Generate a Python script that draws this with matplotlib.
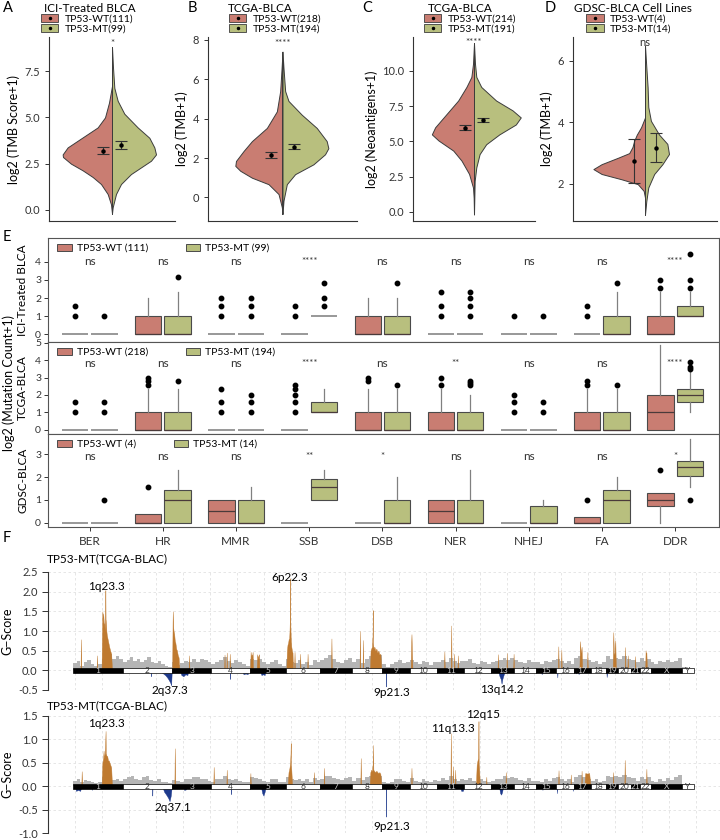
import matplotlib
matplotlib.use('Agg')
import matplotlib.pyplot as plt
from matplotlib.patches import Patch, Rectangle
from matplotlib.lines import Line2D
import numpy as np

plt.rcParams['font.family'] = ['Lato', 'DejaVu Sans']

WT_COL = '#c97d72'
MT_COL = '#b8bf7e'
EDGE = '#3c3c3c'

# ---------------- A-D : split violins ----------------
violin_titles = ['ICI-Treated BLCA', 'TCGA-BLCA', 'TCGA-BLCA', 'GDSC-BLCA Cell Lines']
violin_ylabels = ['log2 (TMB Score+1)', 'log2 (TMB+1)', 'log2 (Neoantigens+1)', 'log2 (TMB+1)']
violin_n_wt = [111, 218, 214, 4]
violin_n_mt = [99, 194, 191, 14]
violin_sig = ['*', '****', '****', 'ns']
violin_sig_y = [9.0, 7.8, 12.0, 6.6]
violin_ylim = [(-0.6, 9.35), (-1.2, 8.15), (-0.64, 12.4), (0.79, 6.78)]
violin_ticks = [[0, 2.5, 5, 7.5], [0, 2, 4, 6, 8], [0, 2.5, 5, 7.5, 10], [2, 4, 6]]

# density outlines (relative half widths)
a_wt_y = [-0.2, 0.3, 0.86, 1.4, 1.78, 2.14, 2.5, 2.86, 3.0, 3.38, 3.74, 4.1, 4.46, 5.0, 5.8, 6.7]
a_wt_w = [0, 3, 13, 33, 58, 88, 123, 147, 148, 133, 103, 73, 43, 21, 9, 0]
a_mt_y = [-0.2, 0.14, 0.86, 1.4, 1.94, 2.3, 2.66, 3.0, 3.38, 3.9, 4.46, 5.2, 5.9, 6.6, 7.7, 8.8]
a_mt_w = [0, 2, 12, 27, 57, 87, 117, 132, 127, 112, 77, 37, 17, 7, 3, 0]
b_wt_y = [-0.84, -0.5, 0.17, 0.67, 1.0, 1.35, 1.6, 1.85, 2.36, 2.86, 3.53, 4.37, 5.4, 6.5, 7.4]
b_wt_w = [0, 2, 12, 42, 92, 127, 142, 140, 117, 92, 47, 17, 7, 3, 0]
b_mt_y = [-0.84, -0.17, 0.67, 1.18, 1.68, 2.19, 2.5, 2.86, 3.53, 4.2, 4.9, 5.4, 6.57, 7.4]
b_mt_w = [0, 3, 13, 38, 93, 128, 138, 133, 103, 58, 18, 8, 3, 0]
c_wt_y = [-0.17, 1.0, 1.73, 2.7, 3.64, 4.35, 5.07, 5.5, 6.0, 6.95, 7.9, 8.86, 9.57, 10.5, 11.95]
c_wt_w = [0, 1, 3, 15, 38, 63, 108, 128, 118, 83, 48, 23, 8, 3, 0]
c_mt_y = [-0.17, 1.0, 2.2, 3.16, 4.1, 4.8, 5.5, 6.2, 6.7, 7.2, 7.9, 8.86, 9.57, 10.5, 11.95]
c_mt_w = [0, 1, 2, 7, 17, 37, 77, 127, 142, 117, 67, 22, 7, 3, 0]
d_wt_y = [1.55, 1.77, 1.99, 2.15, 2.32, 2.48, 2.64, 2.85, 3.0, 3.2, 3.4, 3.6, 3.84, 4.16]
d_wt_w = [0, 4, 22, 72, 132, 157, 132, 82, 48, 38, 33, 25, 12, 0]
d_mt_y = [1.0, 1.44, 1.88, 2.32, 2.64, 2.97, 3.3, 3.6, 4.05, 4.5, 5.14, 5.8, 6.5]
d_mt_w = [0, 4, 10, 28, 53, 73, 68, 43, 18, 10, 8, 4, 0]
violin_maxw = [0.47, 0.38, 0.46, 0.43]

wt_mean = [3.2, 2.15, 5.98, 2.73]
wt_lo = [3.0, 2.0, 5.8, 2.02]
wt_hi = [3.4, 2.3, 6.18, 3.45]
mt_mean = [3.53, 2.58, 6.53, 3.18]
mt_lo = [3.3, 2.45, 6.4, 2.72]
mt_hi = [3.75, 2.7, 6.66, 3.65]

# ---------------- E : boxplots ----------------
pathways = ['BER', 'HR', 'MMR', 'SSB', 'DSB', 'NER', 'NHEJ', 'FA', 'DDR']
e_rows = ['ICI-Treated BLCA', 'TCGA-BLCA', 'GDSC-BLCA']
e_n_wt = [111, 218, 4]
e_n_mt = [99, 194, 14]
# (q1, median, q3, whisker low, whisker high)
ici_wt_box = [(0, 0, 0, 0, 0), (0, 0, 1, 0, 2), (0, 0, 0, 0, 0), (0, 0, 0, 0, 0), (0, 0, 1, 0, 2),
              (0, 0, 0, 0, 0), (0, 0, 0, 0, 0), (0, 0, 0, 0, 0), (0, 0, 1, 0, 2.32)]
ici_wt_out = [[1, 1.58], [], [1, 1.58, 2], [1, 1.58], [], [1, 1.58, 2.32], [1], [1, 1.58], [2.58, 3]]
ici_mt_box = [(0, 0, 0, 0, 0), (0, 0, 1, 0, 2.32), (0, 0, 0, 0, 0), (1, 1, 1, 1, 1), (0, 0, 1, 0, 2),
              (0, 0, 0, 0, 0), (0, 0, 0, 0, 0), (0, 0, 1, 0, 2.32), (1, 1, 1.58, 1, 2.32)]
ici_mt_out = [[1], [3.17], [1, 1.58, 2], [1.58, 2, 2.81], [2.81], [1, 1.58, 2, 2.32], [1], [2.81],
              [2.58, 3, 4.46]]
tcga_wt_box = [(0, 0, 0, 0, 0), (0, 0, 1, 0, 2.32), (0, 0, 0, 0, 0), (0, 0, 0, 0, 0), (0, 0, 1, 0, 2.32),
               (0, 0, 1, 0, 2.32), (0, 0, 0, 0, 0), (0, 0, 1, 0, 2.32), (0, 1, 2, 0, 4.85)]
tcga_wt_out = [[1, 1.58], [2.58, 2.81, 3], [1, 1.58, 2.32], [1, 1.58, 2, 2.32, 2.58], [2.81, 3],
               [2.58, 3], [1, 1.58, 2], [2.58, 2.81], []]
tcga_mt_box = [(0, 0, 0, 0, 0), (0, 0, 1, 0, 2.32), (0, 0, 0, 0, 0), (1, 1, 1.58, 1, 2.32), (0, 0, 1, 0, 2.32),
               (0, 0, 1, 0, 2), (0, 0, 0, 0, 0), (0, 0, 1, 0, 2.32), (1.58, 2, 2.32, 1, 3.32)]
tcga_mt_out = [[1, 1.58], [2.81], [1, 1.58, 2], [], [2.58], [2.58, 2.7, 2.81], [1, 1.58], [2.58],
               [3.46, 3.58, 3.9]]
gdsc_wt_box = [(0, 0, 0, 0, 0), (0, 0, 0.4, 0, 0.4), (0, 0.5, 1, 0, 1), (0, 0, 0, 0, 0), (0, 0, 0, 0, 0),
               (0, 0.5, 1, 0, 1), (0, 0, 0, 0, 0), (0, 0, 0.25, 0, 0.25), (0.75, 1, 1.32, 0, 1.32)]
gdsc_wt_out = [[], [1.58], [], [], [], [], [], [1], [2.32]]
gdsc_mt_box = [(0, 0, 0, 0, 0), (0, 1, 1.43, 0, 2.32), (0, 0, 1, 0, 1.58), (1, 1.58, 1.9, 1, 2.32),
               (0, 0, 1, 0, 2), (0, 0, 1, 0, 2.32), (0, 0, 0.75, 0, 1), (0, 1, 1.43, 0, 2),
               (2.07, 2.44, 2.73, 1.58, 3.67)]
gdsc_mt_out = [[1], [], [], [], [], [], [], [], [1]]
ici_sig = ['ns', 'ns', 'ns', '****', 'ns', 'ns', 'ns', 'ns', '****']
tcga_sig = ['ns', 'ns', 'ns', '****', 'ns', '**', 'ns', 'ns', '****']
gdsc_sig = ['ns', 'ns', 'ns', '**', '*', 'ns', 'ns', 'ns', '*']
e_sig_y = [4.0, 3.8, 2.9]
e_ylim = [(-0.44, 5.33), (-0.23, 5.03), (-0.19, 3.9)]
e_ticks = [[0, 1, 2, 3, 4], [0, 1, 2, 3, 4, 5], [0, 1, 2, 3]]

# ---------------- F : GISTIC G-scores ----------------
chrom_names = [str(i) for i in range(1, 23)] + ['X', 'Y']
chrom_len = [249, 243, 198, 191, 181, 171, 159, 146, 141, 136, 135, 134, 115, 107, 103, 90, 81, 78,
             59, 63, 48, 51, 155, 59]

gray_top = [[0.18, 0.24, 0.12, 0.2, 0.27, 0.16, 0.1, 0.15, 0.3, 0.34, 0.42, 0.3, 0.36, 0.28],
            [0.2, 0.27, 0.33, 0.24, 0.3, 0.2, 0.25, 0.33, 0.22, 0.18, 0.24, 0.15, 0.1, 0.08],
            [0.2, 0.14, 0.18, 0.24, 0.2, 0.28, 0.22, 0.3, 0.25, 0.2],
            [0.15, 0.22, 0.26, 0.33, 0.24, 0.18, 0.25, 0.2, 0.15, 0.12],
            [0.3, 0.26, 0.3, 0.2, 0.15, 0.22, 0.26, 0.15, 0.12],
            [0.3, 0.22, 0.18, 0.26, 0.16, 0.22, 0.14, 0.27, 0.2],
            [0.25, 0.32, 0.38, 0.28, 0.22, 0.18, 0.26, 0.32],
            [0.2, 0.28, 0.18, 0.3, 0.36, 0.42, 0.38],
            [0.15, 0.08, 0.15, 0.22, 0.27, 0.18, 0.2],
            [0.26, 0.2, 0.15, 0.24, 0.2, 0.14, 0.2],
            [0.2, 0.27, 0.2, 0.32, 0.24, 0.18, 0.24],
            [0.24, 0.28, 0.18, 0.16, 0.24, 0.2, 0.16],
            [0.2, 0.24, 0.26, 0.32, 0.27, 0.32],
            [0.27, 0.2, 0.18, 0.26, 0.2],
            [0.2, 0.16, 0.24, 0.2, 0.27],
            [0.3, 0.24, 0.18, 0.24, 0.17],
            [0.32, 0.36, 0.28, 0.25],
            [0.2, 0.24, 0.16, 0.2],
            [0.36, 0.3, 0.32],
            [0.3, 0.37, 0.3],
            [0.26, 0.2],
            [0.32, 0.24, 0.3],
            [0.2, 0.16, 0.24, 0.2, 0.27, 0.2, 0.24, 0.32],
            [0.08, 0.03]]
gray_bot = [[0.12, 0.16, 0.09, 0.14, 0.12, 0.1, 0.07, 0.1, 0.2, 0.17, 0.21, 0.14, 0.16, 0.12],
            [0.15, 0.19, 0.21, 0.15, 0.14, 0.19, 0.21, 0.14, 0.12, 0.15, 0.1, 0.08, 0.06],
            [0.14, 0.11, 0.1, 0.15, 0.16, 0.19, 0.2, 0.15, 0.16, 0.12],
            [0.1, 0.15, 0.16, 0.21, 0.15, 0.14, 0.16, 0.12, 0.1, 0.08],
            [0.2, 0.17, 0.15, 0.12, 0.09, 0.15, 0.15, 0.1, 0.08],
            [0.2, 0.15, 0.14, 0.16, 0.12, 0.15, 0.1, 0.17, 0.14],
            [0.15, 0.21, 0.22, 0.17, 0.16, 0.13, 0.17, 0.2],
            [0.12, 0.17, 0.13, 0.2, 0.22, 0.25, 0.21],
            [0.1, 0.06, 0.1, 0.15, 0.16, 0.11, 0.1],
            [0.17, 0.12, 0.1, 0.15, 0.12, 0.1, 0.13],
            [0.12, 0.17, 0.14, 0.21, 0.15, 0.12, 0.15],
            [0.14, 0.17, 0.12, 0.1, 0.15, 0.12, 0.1],
            [0.12, 0.15, 0.16, 0.21, 0.17, 0.2],
            [0.17, 0.13, 0.12, 0.17, 0.12],
            [0.12, 0.1, 0.15, 0.12, 0.17],
            [0.2, 0.15, 0.12, 0.15, 0.1],
            [0.2, 0.23, 0.19, 0.16],
            [0.12, 0.15, 0.1, 0.12],
            [0.22, 0.19, 0.21],
            [0.2, 0.23, 0.2],
            [0.17, 0.12],
            [0.2, 0.15, 0.2],
            [0.12, 0.1, 0.15, 0.12, 0.17, 0.14, 0.19, 0.23],
            [0.05, 0.02]]

# orange regions: (chrom, positions Mb, g-score)
amp_top = [('1', [37, 39, 41], [0, 0.79, 0]),
           ('1', [117, 119, 121], [0, 0.38, 0]),
           ('1', [142, 144, 146, 148, 150, 152, 154, 156, 158, 160, 161, 162, 164, 166, 168, 172, 176, 180, 185, 190, 194],
            [0, 0.9, 1.5, 1.2, 1.45, 1.3, 1.1, 1.2, 1.0, 1.6, 2.04, 1.3, 1.2, 1.0, 0.9, 0.8, 0.7, 0.6, 0.5, 0.42, 0]),
           ('3', [2, 4, 5, 7, 9, 12, 15, 18, 22, 26, 30, 34, 38],
            [0, 1.2, 1.5, 1.1, 1.0, 0.93, 0.75, 0.7, 0.55, 0.5, 0.38, 0.33, 0]),
           ('3', [84, 86, 88], [0, 0.38, 0]),
           ('4', [63, 65, 67, 74, 76, 78, 89, 91, 93], [0, 0.4, 0, 0, 0.45, 0, 0, 0.42, 0]),
           ('5', [2, 4, 7, 9, 12, 14, 16], [0, 0.47, 0.3, 0.4, 0.35, 0.47, 0]),
           ('5', [34, 37, 40, 42, 46, 48], [0, 0.41, 0.3, 0.35, 0.41, 0]),
           ('6', [1, 4, 7, 10, 13, 15, 17, 19, 20, 21, 23, 26, 29, 32, 34],
            [0, 0.5, 0.65, 0.7, 0.8, 0.75, 1.0, 1.4, 2.34, 1.2, 0.8, 0.6, 0.5, 0.45, 0]),
           ('6', [40, 42, 44], [0, 0.47, 0]),
           ('6', [68, 70, 72], [0, 0.42, 0]),
           ('6', [105, 107, 109], [0, 0.42, 0]),
           ('7', [53, 55, 57], [0, 0.81, 0]),
           ('8', [36, 38, 40], [0, 1.0, 0]),
           ('8', [51, 53, 55], [0, 0.77, 0]),
           ('8', [88, 91, 94, 98, 101, 102, 103, 106, 110, 115, 120, 125, 130, 135, 140, 145],
            [0, 0.5, 0.55, 0.6, 0.9, 1.53, 0.7, 0.55, 0.6, 0.5, 0.55, 0.45, 0.5, 0.4, 0.42, 0]),
           ('10', [4, 6, 8, 10, 13], [0, 0.6, 0.92, 0.5, 0]),
           ('11', [34, 36, 38], [0, 0.48, 0]),
           ('11', [68, 70, 72], [0, 1.14, 0]),
           ('11', [83, 85, 87], [0, 0.42, 0]),
           ('11', [101, 103, 105], [0, 0.38, 0]),
           ('13', [32, 34, 36], [0, 0.41, 0]),
           ('13', [76, 78, 80], [0, 0.44, 0]),
           ('13', [110, 112, 114], [0, 0.42, 0]),
           ('16', [8, 10, 12], [0, 0.61, 0]),
           ('16', [23, 25, 27], [0, 0.52, 0]),
           ('17', [25, 28, 31, 34, 36, 39], [0, 0.74, 0.45, 0.5, 0.6, 0]),
           ('17', [63, 65, 67], [0, 0.47, 0]),
           ('19', [32, 35, 38, 42, 45, 48], [0, 0.97, 0.4, 0.45, 0.76, 0]),
           ('20', [33, 35, 37], [0, 0.59, 0]),
           ('20', [46, 48, 50], [0, 0.38, 0]),
           ('21', [20, 22, 24], [0, 0.36, 0]),
           ('22', [24, 26, 28, 30, 33], [0, 0.51, 0.4, 0.45, 0])]
del_top = [('1', [3, 8, 15, 22], [0, -0.06, -0.05, 0]),
           ('2', [138, 139, 140], [0, -0.15, 0]),
           ('2', [180, 195, 210, 220, 230, 236, 240, 243], [0, -0.06, -0.12, -0.18, -0.26, -0.32, -0.38, 0]),
           ('3', [40, 48, 58, 68, 78, 82], [0, -0.12, -0.15, -0.1, -0.12, 0]),
           ('4', [92, 93, 94], [0, -0.22, 0]),
           ('4', [150, 160, 170, 180, 185], [0, -0.1, -0.08, -0.1, 0]),
           ('5', [50, 58, 66, 74, 78], [0, -0.12, -0.1, -0.12, 0]),
           ('6', [0, 2, 5], [0, -0.08, 0]),
           ('9', [21, 22, 23], [0, -0.41, 0]),
           ('10', [30, 33, 36], [0, -0.05, 0]),
           ('13', [34, 42, 48, 52, 56, 62, 70], [0, -0.15, -0.22, -0.34, -0.22, -0.12, 0]),
           ('15', [27, 30, 33], [0, -0.1, 0]),
           ('16', [3, 5, 7], [0, -0.18, 0]),
           ('17', [5, 8, 11], [0, -0.08, 0]),
           ('17', [18, 21, 24], [0, -0.1, 0]),
           ('19', [0, 2, 5], [0, -0.17, 0]),
           ('22', [40, 43, 46], [0, -0.08, 0]),
           ('X', [28, 31, 34], [0, -0.05, 0])]
amp_bot = [('1', [41, 43, 45], [0, 0.32, 0]),
           ('1', [142, 146, 150, 152, 154, 156, 158, 160, 162, 163, 165, 168, 170, 174, 178, 182, 186, 190, 194],
            [0, 0.5, 0.6, 0.76, 0.6, 0.65, 0.7, 0.9, 1.18, 0.7, 0.68, 0.62, 0.65, 0.55, 0.55, 0.5, 0.45, 0.4, 0]),
           ('3', [13, 15, 17], [0, 0.81, 0]),
           ('4', [9, 11, 13], [0, 0.41, 0]),
           ('4', [74, 76, 78], [0, 0.35, 0]),
           ('5', [1, 3, 5], [0, 0.28, 0]),
           ('6', [8, 12, 15, 17, 20, 22, 23, 24, 26, 30], [0, 0.3, 0.35, 0.4, 0.5, 0.7, 0.92, 0.45, 0.35, 0]),
           ('6', [137, 139, 141], [0, 0.3, 0]),
           ('7', [16, 18, 20], [0, 0.39, 0]),
           ('8', [40, 42, 44], [0, 0.6, 0]),
           ('8', [86, 90, 94, 98, 102, 103, 105, 110, 115, 120, 125, 130, 135, 140, 145],
            [0, 0.3, 0.35, 0.32, 0.5, 0.88, 0.35, 0.32, 0.3, 0.33, 0.3, 0.28, 0.3, 0.26, 0]),
           ('10', [6, 8, 10], [0, 0.39, 0]),
           ('11', [66, 68, 70, 77, 79, 81, 88, 90, 92], [0, 1.13, 0, 0, 0.42, 0, 0, 0.35, 0]),
           ('12', [58, 62, 66, 69, 70, 71, 72, 74, 78], [0, 0.45, 0.55, 0.6, 0.9, 1.39, 0.5, 0.4, 0]),
           ('12', [108, 110, 112], [0, 0.2, 0]),
           ('13', [71, 73, 75], [0, 0.3, 0]),
           ('16', [9, 11, 13], [0, 0.34, 0]),
           ('16', [70, 72, 74], [0, 0.25, 0]),
           ('17', [34, 36, 38], [0, 0.33, 0]),
           ('17', [50, 54, 64, 74, 80], [0, 0.28, 0.27, 0.28, 0]),
           ('19', [32, 34, 36], [0, 0.3, 0]),
           ('20', [31, 33, 35], [0, 0.56, 0]),
           ('22', [28, 30, 32], [0, 0.37, 0])]
del_bot = [('1', [8, 15, 25, 35, 43], [0, -0.1, -0.08, -0.1, 0]),
           ('1', [91, 93, 95], [0, -0.08, 0]),
           ('2', [145, 146, 147], [0, -0.2, 0]),
           ('2', [195, 205, 215, 225, 232, 238, 243], [0, -0.12, -0.18, -0.25, -0.32, -0.2, 0]),
           ('3', [56, 62, 70, 79], [0, -0.08, -0.07, 0]),
           ('4', [96, 97, 98], [0, -0.17, 0]),
           ('5', [55, 62, 68, 74, 80], [0, -0.15, -0.2, -0.12, 0]),
           ('6', [155, 157, 159], [0, -0.05, 0]),
           ('9', [21.2, 22, 22.8], [0, -0.65, 0]),
           ('11', [113, 120, 128, 135], [0, -0.1, -0.1, 0]),
           ('13', [39, 45, 50, 55, 60], [0, -0.15, -0.18, -0.12, 0]),
           ('15', [32, 34, 36], [0, -0.08, 0]),
           ('16', [1, 3, 5], [0, -0.15, 0]),
           ('16', [80, 82, 84], [0, -0.1, 0]),
           ('18', [60, 62, 64], [0, -0.05, 0]),
           ('X', [0, 2, 5], [0, -0.06, 0])]
# peak labels: (text, chrom, position Mb, y)
lab_top = [('1q23.3', '1', 168, 2.12), ('6p22.3', '6', 20, 2.37), ('2q37.3', '2', 235, -0.51),
           ('9p21.3', '9', 50, -0.57), ('13q14.2', '13', 52, -0.49)]
lab_bot = [('1q23.3', '1', 168, 1.35), ('2q37.1', '3', 8, -0.46), ('9p21.3', '9', 50, -0.86),
           ('11q13.3', '11', 81, 1.24), ('12q15', '12', 95, 1.53)]

fig = plt.figure(figsize=(7.2, 8.4), dpi=100)


def px_axes(x0, y0, x1, y1):
    return fig.add_axes([x0 / 720, 1 - y1 / 840, (x1 - x0) / 720, (y1 - y0) / 840])


def label(x, y, s, **kw):
    fig.text(x / 720, 1 - y / 840, s, **kw)


# ---- A-D
violin_box = [(49, 37, 175, 221), (208, 37, 357, 221), (413, 37, 535, 221), (573, 37, 717, 221)]
violin_wt = [(a_wt_y, a_wt_w), (b_wt_y, b_wt_w), (c_wt_y, c_wt_w), (d_wt_y, d_wt_w)]
violin_mt = [(a_mt_y, a_mt_w), (b_mt_y, b_mt_w), (c_mt_y, c_mt_w), (d_mt_y, d_mt_w)]
title_x = [90, 260, 460, 633]
legend_x = [87, 275, 470, 629]
letters = [('A', 3), ('B', 188), ('C', 362), ('D', 545)]

for i in range(4):
    ax = px_axes(*violin_box[i])
    wy, ww = violin_wt[i]
    my, mw = violin_mt[i]
    scale = max(max(ww), max(mw))
    ww = np.array(ww) / scale * violin_maxw[i]
    mw = np.array(mw) / scale * violin_maxw[i]
    ax.fill_betweenx(wy, 1, 1 - ww, facecolor=WT_COL, edgecolor=EDGE, lw=0.7)
    ax.fill_betweenx(my, 1, 1 + mw, facecolor=MT_COL, edgecolor=EDGE, lw=0.7)
    ax.plot([1, 1], [min(wy[0], my[0]), max(wy[-1], my[-1])], color=EDGE, lw=0.7)
    ax.errorbar([1 - 0.09], [wt_mean[i]], yerr=[[wt_mean[i] - wt_lo[i]], [wt_hi[i] - wt_mean[i]]],
                fmt='o', ms=2.2, color='black', ecolor='#333333', elinewidth=0.8, capsize=4.3, capthick=0.8)
    ax.errorbar([1 + 0.09], [mt_mean[i]], yerr=[[mt_mean[i] - mt_lo[i]], [mt_hi[i] - mt_mean[i]]],
                fmt='o', ms=2.2, color='black', ecolor='#333333', elinewidth=0.8, capsize=4.3, capthick=0.8)
    ax.text(1, violin_sig_y[i], violin_sig[i], ha='center', va='center',
            fontsize=8 if violin_sig[i] == 'ns' else 7, color='#333333')
    ax.set_xlim(0.4, 1.6)
    ax.set_ylim(*violin_ylim[i])
    ax.set_yticks(violin_ticks[i])
    if i in (0, 2):
        ax.set_yticklabels(['%.1f' % t for t in violin_ticks[i]])
    ax.set_xticks([])
    for s in ('top', 'right'):
        ax.spines[s].set_visible(False)
    for s in ('left', 'bottom'):
        ax.spines[s].set_color('#333333')
        ax.spines[s].set_linewidth(0.8)
    ax.tick_params(axis='y', length=3, width=0.7, labelsize=8, colors='#333333')
    ax.set_ylabel(violin_ylabels[i], fontsize=9, labelpad=3)
    label(title_x[i], 8, violin_titles[i], ha='center', va='center', fontsize=8.5)
    label(letters[i][1], 8, letters[i][0], ha='left', va='center', fontsize=10.5)
    handles = [(Patch(facecolor=WT_COL, edgecolor=EDGE, lw=0.6),
                Line2D([], [], marker='o', ms=1.5, color='black', ls='')),
               (Patch(facecolor=MT_COL, edgecolor=EDGE, lw=0.6),
                Line2D([], [], marker='o', ms=1.5, color='black', ls=''))]
    ax.legend(handles, ['TP53-WT(%d)' % violin_n_wt[i], 'TP53-MT(%d)' % violin_n_mt[i]],
              loc='center', bbox_to_anchor=(legend_x[i] / 720, 1 - 24 / 840), bbox_transform=fig.transFigure,
              frameon=False, fontsize=7.5, handlelength=1.7, handleheight=0.8, labelspacing=0.05,
              handletextpad=0.6, borderpad=0)

# ---- E
label(3, 237, 'E', ha='left', va='center', fontsize=10.5)
e_box = [(48, 238, 719, 342), (48, 342, 719, 434), (48, 434, 719, 527)]
e_data = [(ici_wt_box, ici_wt_out, ici_mt_box, ici_mt_out, ici_sig),
          (tcga_wt_box, tcga_wt_out, tcga_mt_box, tcga_mt_out, tcga_sig),
          (gdsc_wt_box, gdsc_wt_out, gdsc_mt_box, gdsc_mt_out, gdsc_sig)]
xs = np.arange(1, len(pathways) + 1)
for r in range(3):
    ax = px_axes(*e_box[r])
    wbox, wout, mbox, mout, sig = e_data[r]
    for boxes, outs, off, col in ((wbox, wout, -0.2, WT_COL), (mbox, mout, 0.2, MT_COL)):
        stats = [dict(q1=b[0], med=b[1], q3=b[2], whislo=b[3], whishi=b[4], fliers=o)
                 for b, o in zip(boxes, outs)]
        art = ax.bxp(stats, positions=xs + off, widths=0.36, showcaps=False, patch_artist=True,
                     boxprops=dict(facecolor=col, edgecolor='#4a4a4a', lw=0.8),
                     medianprops=dict(color='#4a3a3a', lw=0.9),
                     whiskerprops=dict(color='#808080', lw=0.9),
                     flierprops=dict(marker='o', markersize=3.2, markerfacecolor='black',
                                     markeredgecolor='black'))
        for b, patch, med in zip(boxes, art['boxes'], art['medians']):
            if b[0] == b[2]:
                patch.set_edgecolor('#9a9a9a')
                patch.set_linewidth(1.4)
                med.set_color('#9a9a9a')
                med.set_linewidth(1.4)
    for x, s in zip(xs, sig):
        ax.text(x, e_sig_y[r], s, ha='center', va='center',
                fontsize=8.5 if s == 'ns' else 7, color='#333333')
    ax.set_xlim(0.43, 9.6)
    ax.set_ylim(*e_ylim[r])
    ax.set_yticks(e_ticks[r])
    ax.tick_params(axis='y', length=3, width=0.7, labelsize=7.5, colors='#333333', pad=2)
    for s in ax.spines.values():
        s.set_color('#555555')
        s.set_linewidth(0.8)
    ax.set_xticks(xs)
    if r == 2:
        ax.set_xticklabels(pathways, fontsize=8.5)
        ax.tick_params(axis='x', length=3, width=0.7, colors='#333333')
    else:
        ax.tick_params(axis='x', length=0, labelbottom=False)
    ax.set_ylabel(e_rows[r], fontsize=8.5, labelpad=5)
    ax.legend([Patch(facecolor=WT_COL, edgecolor='#4a4a4a', lw=0.7),
               Patch(facecolor=MT_COL, edgecolor='#4a4a4a', lw=0.7)],
              ['TP53-WT (%d)' % e_n_wt[r], 'TP53-MT (%d)' % e_n_mt[r]],
              loc='upper left', bbox_to_anchor=(0.005, 1.0), ncol=2, frameon=False, fontsize=7.5,
              handlelength=1.4, handleheight=0.7, handletextpad=0.5, columnspacing=3.6,
              borderaxespad=0.15)
label(9, 383, 'log2 (Mutation Count+1)', ha='center', va='center', rotation=90, fontsize=9)

# ---- F
label(3, 538, 'F', ha='left', va='center', fontsize=10.5)
starts = np.concatenate([[0], np.cumsum(chrom_len)[:-1]])
grid_x = np.arange(-125, 3230, 134.5)


def gpos(ch):
    return starts[chrom_names.index(ch)]


def gistic(ax, gray, amps, dels, labs, ylim, ticks, bar_h):
    for k in range(len(chrom_names)):
        edges = starts[k] + np.linspace(0, chrom_len[k], len(gray[k]) + 1)
        ax.stairs(gray[k], edges, fill=True, color='#b5b5b5', lw=0, zorder=1)
    for ch, p, h in amps:
        ax.fill_between(gpos(ch) + np.array(p), 0, h, color='#bf7a30', lw=0.3, zorder=2)
    for ch, p, h in dels:
        ax.fill_between(gpos(ch) + np.array(p), 0, h, color='#1e3a8c', lw=0.3, zorder=2)
    for k, name in enumerate(chrom_names):
        dark = k % 2 == 0
        ax.add_patch(Rectangle((starts[k], -bar_h), chrom_len[k], 2 * bar_h,
                               facecolor='black' if dark else 'white', edgecolor='black', lw=0.5, zorder=3))
        ax.text(starts[k] + chrom_len[k] / 2, 0, name, ha='center', va='center', fontsize=6,
                color='#d0d0d0' if dark else '#333333', zorder=4)
    for s, ch, p, y in labs:
        ax.text(gpos(ch) + p, y, s, ha='center', va='center', fontsize=8.5, zorder=5, clip_on=False)
    ax.set_xlim(-125, 3225)
    ax.set_ylim(*ylim)
    ax.set_yticks(ticks)
    ax.set_yticklabels(['%.1f' % t for t in ticks])
    ax.set_xticks(grid_x)
    ax.tick_params(axis='x', length=0, labelbottom=False)
    ax.tick_params(axis='y', length=4, width=0.7, labelsize=8, colors='#333333')
    ax.grid(True, ls=(0, (3, 3)), color='#e2e2e2', lw=0.6)
    ax.set_axisbelow(True)
    for s in ('top', 'right', 'bottom'):
        ax.spines[s].set_visible(False)
    ax.spines['left'].set_color('#333333')
    ax.spines['left'].set_linewidth(0.8)
    ax.set_ylabel('G\u2212Score', fontsize=9, labelpad=3)


ax_t = px_axes(48, 572, 720, 690)
gistic(ax_t, gray_top, amp_top, del_top, lab_top, (-0.5, 2.5), [-0.5, 0, 0.5, 1, 1.5, 2, 2.5], 0.065)
label(47, 559, 'TP53-MT(TCGA-BLAC)', ha='left', va='center', fontsize=8.5)
ax_b = px_axes(48, 716, 720, 833)
gistic(ax_b, gray_bot, amp_bot, del_bot, lab_bot, (-1.0, 1.5), [-1, -0.5, 0, 0.5, 1, 1.5], 0.055)
label(47, 706, 'TP53-MT(TCGA-BLAC)', ha='left', va='center', fontsize=8.5)

fig.savefig('out.png', dpi=100)
